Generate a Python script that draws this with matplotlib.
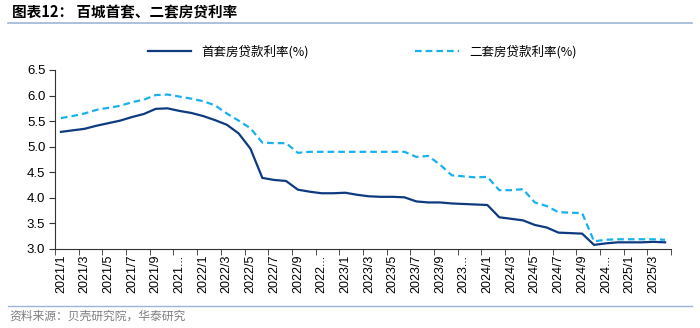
import matplotlib
matplotlib.use("Agg")
import matplotlib.pyplot as plt

plt.rcParams['font.family'] = ['Liberation Sans', 'Noto Sans CJK SC', 'DejaVu Sans']

# monthly categories, 2021/1 .. 2025/4
months = [f"{y}/{m}" for y in range(2021, 2026) for m in range(1, 13)][:52]

first_rate = [5.29, 5.32, 5.35, 5.41, 5.46, 5.51, 5.58, 5.64, 5.74, 5.75,
              5.70, 5.66, 5.60, 5.52, 5.43, 5.26, 4.96, 4.39, 4.35, 4.33,
              4.16, 4.12, 4.09, 4.09, 4.10, 4.06, 4.03, 4.02, 4.02, 4.01,
              3.93, 3.91, 3.91, 3.89, 3.88, 3.87, 3.86, 3.62, 3.59, 3.56,
              3.47, 3.42, 3.32, 3.31, 3.30, 3.08, 3.11, 3.13, 3.13, 3.13,
              3.14, 3.13]
second_rate = [5.56, 5.60, 5.65, 5.72, 5.76, 5.80, 5.87, 5.92, 6.01, 6.02,
               5.98, 5.94, 5.89, 5.81, 5.65, 5.51, 5.36, 5.08, 5.07, 5.07,
               4.88, 4.90, 4.90, 4.90, 4.90, 4.90, 4.90, 4.90, 4.90, 4.90,
               4.80, 4.82, 4.65, 4.44, 4.42, 4.40, 4.41, 4.15, 4.15, 4.17,
               3.91, 3.84, 3.72, 3.71, 3.70, 3.15, 3.18, 3.19, 3.19, 3.19,
               3.19, 3.18]

navy = '#0E3A80'
cyan = '#1AB0EE'
rule = '#9DB4D6'
cjk = ['Noto Sans CJK SC', 'DejaVu Sans']

fig = plt.figure(figsize=(7, 3.28), dpi=100)
ax = fig.add_axes([0.0786, 0.2409, 0.88, 0.5457])

x = list(range(len(months)))
l1, = ax.plot(x, first_rate, color=navy, lw=1.6, label='首套房贷款利率(%)')
l2, = ax.plot(x, second_rate, color=cyan, lw=1.6, ls=(0, (3, 1.8)), label='二套房贷款利率(%)')

ax.set_xlim(-0.5, len(months) - 0.5)
ax.set_ylim(3.0, 6.5)
ax.set_yticks([3.0 + 0.5 * k for k in range(8)])
ax.set_yticklabels([f"{3.0 + 0.5 * k:.1f}" for k in range(8)], fontsize=9.5)

labels = []
for m in months[::2]:
    labels.append(m[:4] + '...' if m.endswith('/11') else m)
ax.set_xticks(x[::2])
ax.set_xticklabels(labels, rotation=90, fontsize=9)
ax.set_xticks([v - 0.5 for v in range(0, len(months) + 1, 2)], minor=True)
ax.tick_params(axis='x', which='major', length=0, pad=4)
ax.tick_params(axis='x', which='minor', length=4, direction='out', color='#333333')
ax.tick_params(axis='y', length=4, direction='out', color='#333333', pad=3)

for s in ['top', 'right']:
    ax.spines[s].set_visible(False)
for s in ['left', 'bottom']:
    ax.spines[s].set_color('#333333')
    ax.spines[s].set_linewidth(0.8)

fig.legend(handles=[l1, l2], loc='center', bbox_to_anchor=(0.517, 0.842), ncol=2,
           frameon=False, handlelength=3.5, columnspacing=8.5,
           prop={'family': cjk, 'size': 9})

fig.text(0.017, 0.962, '图表12： 百城首套、二套房贷利率', fontsize=10.5, fontweight='bold',
         family=cjk, va='center', ha='left')
fig.add_artist(plt.Line2D([0.012, 0.988], [0.93, 0.93], color=rule, lw=1.2))
fig.add_artist(plt.Line2D([0.012, 0.988], [0.068, 0.068], color=rule, lw=1.0))
fig.text(0.014, 0.035, '资料来源：贝壳研究院，华泰研究', fontsize=8.5, color='#7F7F7F',
         family=cjk, va='center', ha='left')

fig.savefig('out.png', dpi=100)
